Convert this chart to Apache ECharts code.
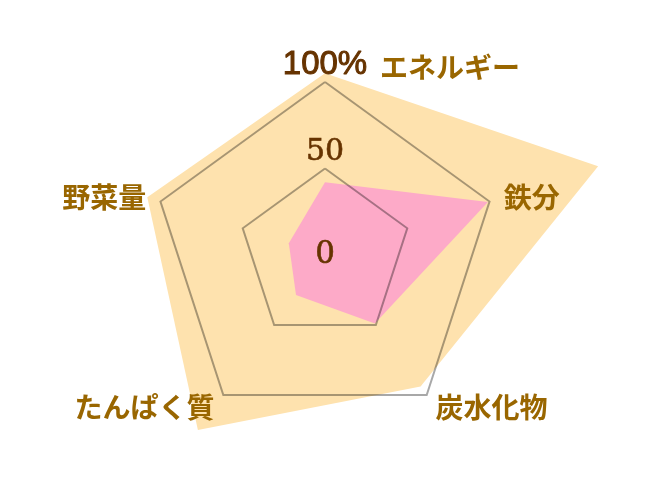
<!DOCTYPE html>
<html>
<head>
<meta charset="utf-8">
<script src="https://cdn.jsdelivr.net/npm/echarts@6/dist/echarts.min.js"></script>
<style>
html,body{margin:0;padding:0;background:#fff;}
#chart{width:652px;height:494px;}
</style>
</head>
<body>
<div id="chart"></div>
<script>
// Indicators (ECharts order: counter-clockwise from top)
const categories = ['エネルギー', '野菜量', 'たんぱく質', '炭水化物', '鉄分'];
const intakeValues = [105, 108, 125, 94, 166];   // orange area
const targetValues = [42, 22, 28.5, 49, 99];     // pink area
const tickLabels = { 0: '0', 50: '50', 100: '100%' };

const chart = echarts.init(document.getElementById('chart'), null, { renderer: 'canvas' });

const indicator = categories.map((name, i) => {
  const item = { name: name, min: 0, max: 100 };
  if (i === 0) item.axisLabel = { show: true };
  return item;
});

chart.setOption({
  animation: false,
  radar: {
    z: 3,
    center: [325, 255],
    radius: 173,
    startAngle: 90,
    splitNumber: 2,
    shape: 'polygon',
    indicator: indicator,
    nameGap: 15,
    axisName: {
      color: '#996600',
      fontFamily: 'Noto Sans CJK JP',
      fontWeight: 'bold',
      fontSize: 28,
      verticalAlign: 'middle',
      formatter: function (name) {
        return name === categories[0] ? '{top|' + name + '}' : name;
      },
      rich: {
        top: {
          color: '#996600',
          fontFamily: 'Noto Sans CJK JP',
          fontWeight: 'bold',
          fontSize: 28,
          padding: [0, 0, 0, 250]
        }
      }
    },
    axisLine: { show: false },
    axisTick: { show: false },
    splitArea: { show: false },
    splitLine: { lineStyle: { color: 'rgba(0,0,0,0.34)', width: 2 } },
    axisLabel: {
      show: false,
      margin: 0,
      align: 'center',
      verticalAlign: 'middle',
      hideOverlap: false,
      formatter: function (v) {
        const t = tickLabels[v];
        if (v === 100) return '{a|' + t + '}';
        if (v === 50) return '{b|' + t + '}';
        return '{c|' + t + '}';
      },
      rich: {
        a: { fontFamily: 'Liberation Sans', fontSize: 33, color: '#663300', textBorderColor: '#663300', textBorderWidth: 1, padding: [0, 0, 34, 0] },
        b: { fontFamily: 'DejaVu Serif', fontSize: 30, color: '#663300', textBorderColor: '#663300', textBorderWidth: 0.6, padding: [0, 0, 32, 0] },
        c: { fontFamily: 'DejaVu Serif', fontSize: 31, color: '#663300', textBorderColor: '#663300', textBorderWidth: 0.6, padding: [0, 0, 0, 0] }
      }
    }
  },
  series: [{
    type: 'radar',
    symbol: 'none',
    lineStyle: { width: 0 },
    data: [
      { value: intakeValues, areaStyle: { color: '#fee2ae', opacity: 1 }, lineStyle: { width: 0, opacity: 0 } },
      { value: targetValues, areaStyle: { color: '#fdaac8', opacity: 1 }, lineStyle: { width: 0, opacity: 0 } }
    ]
  }]
});
</script>
</body>
</html>
